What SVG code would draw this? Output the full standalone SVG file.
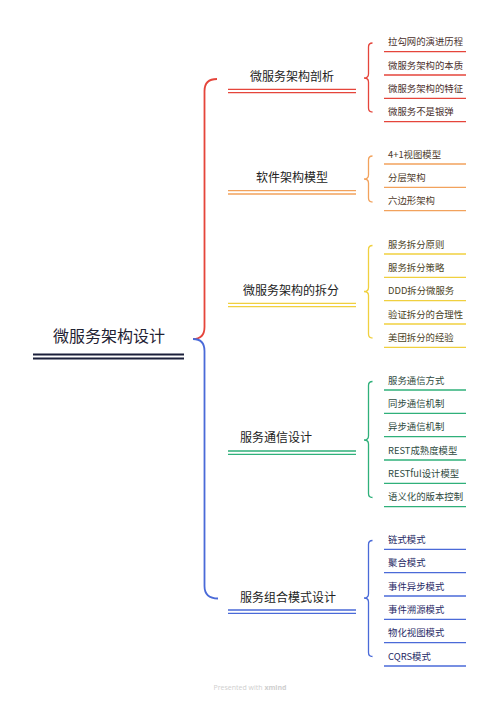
<svg xmlns="http://www.w3.org/2000/svg" width="500" height="701" viewBox="0 0 500 701">
<style>
text{font-family:"Noto Sans CJK SC","Noto Sans",sans-serif}
.root{font-size:16px;fill:#1f2233}
.br{font-size:12px;fill:#222}
.lf{font-size:9.4px}
.ln{fill:none;stroke-width:1.3}
.main{stroke-width:1.8}
.red{stroke:#e5453b}.org{stroke:#f2a25c}.yel{stroke:#f0d03f}.grn{stroke:#2fb07a}.blu{stroke:#4a6ad8}
.tr{fill:#4a2f2c}.to{fill:#4d3a2a}.ty{fill:#4a4224}.tg{fill:#2e4a40}.tb{fill:#1f2a66}
</style>
<rect width="500" height="701" fill="#fff"/>
<g id="connectors">
<path class="ln main red" d="M217 79 Q204.5 79 204.5 91 L204.5 327 Q204.5 339 193 339"/>
<path class="ln main blu" d="M193 339 Q204.5 339 204.5 351 L204.5 586 Q204.5 598.5 218 598.5"/>
<path class="ln red" d="M372.5 43 Q368.5 43 368.5 47 L368.5 74 Q368.5 78 364 78 Q368.5 78 368.5 82 L368.5 108 Q368.5 112 372.5 112"/>
<path class="ln org" d="M372.5 156 Q368.5 156 368.5 160 L368.5 175 Q368.5 179 364 179 Q368.5 179 368.5 183 L368.5 198 Q368.5 202 372.5 202"/>
<path class="ln yel" d="M372.5 245.5 Q368.5 245.5 368.5 249.5 L368.5 287.5 Q368.5 291.5 364 291.5 Q368.5 291.5 368.5 295.5 L368.5 334 Q368.5 338 372.5 338"/>
<path class="ln grn" d="M372.5 381.5 Q368.5 381.5 368.5 385.5 L368.5 436 Q368.5 440 364 440 Q368.5 440 368.5 444 L368.5 493.5 Q368.5 497.5 372.5 497.5"/>
<path class="ln blu" d="M372.5 540.5 Q368.5 540.5 368.5 544.5 L368.5 594 Q368.5 598 364 598 Q368.5 598 368.5 602 L368.5 652.5 Q368.5 656.5 372.5 656.5"/>
</g>
<g id="root">
<text class="root" x="109" y="342" text-anchor="middle">微服务架构设计</text>
<path d="M33 354.5 H184 M33 358.5 H184" stroke="#1a1f3a" stroke-width="1.8" fill="none"/>
</g>
<g id="b1">
<text class="br" x="292" y="81" text-anchor="middle">微服务架构剖析</text>
<path class="ln red" d="M228 89.3 H356 M228 92.7 H356"/>
</g>
<g id="b1-leaves">
<text class="lf tr" x="388" y="45.2">拉勾网的演进历程</text><path class="ln red" d="M384 51.7 H466"/>
<text class="lf tr" x="388" y="68.5">微服务架构的本质</text><path class="ln red" d="M384 75 H466"/>
<text class="lf tr" x="388" y="91.8">微服务架构的特征</text><path class="ln red" d="M384 98.3 H466"/>
<text class="lf tr" x="388" y="115.2">微服务不是银弹</text><path class="ln red" d="M384 121.7 H466"/>
</g>
<g id="b2">
<text class="br" x="292" y="182" text-anchor="middle">软件架构模型</text>
<path class="ln org" d="M228 190.6 H356 M228 194 H356"/>
</g>
<g id="b2-leaves">
<text class="lf to" x="388" y="157.5">4+1视图模型</text><path class="ln org" d="M384 164 H466"/>
<text class="lf to" x="388" y="180.8">分层架构</text><path class="ln org" d="M384 187.3 H466"/>
<text class="lf to" x="388" y="204.2">六边形架构</text><path class="ln org" d="M384 210.7 H466"/>
</g>
<g id="b3">
<text class="br" x="291" y="295" text-anchor="middle">微服务架构的拆分</text>
<path class="ln yel" d="M228 303.3 H356 M228 306.7 H356"/>
</g>
<g id="b3-leaves">
<text class="lf ty" x="388" y="247.5">服务拆分原则</text><path class="ln yel" d="M384 254 H466"/>
<text class="lf ty" x="388" y="270.8">服务拆分策略</text><path class="ln yel" d="M384 277.3 H466"/>
<text class="lf ty" x="388" y="294.2">DDD拆分微服务</text><path class="ln yel" d="M384 300.7 H466"/>
<text class="lf ty" x="388" y="317.5">验证拆分的合理性</text><path class="ln yel" d="M384 324 H466"/>
<text class="lf ty" x="388" y="340.8">美团拆分的经验</text><path class="ln yel" d="M384 347.3 H466"/>
</g>
<g id="b4">
<text class="br" x="240" y="442">服务通信设计</text>
<path class="ln grn" d="M228 451 H356 M228 454.4 H356"/>
</g>
<g id="b4-leaves">
<text class="lf tg" x="388" y="383.5">服务通信方式</text><path class="ln grn" d="M384 390 H466"/>
<text class="lf tg" x="388" y="406.8">同步通信机制</text><path class="ln grn" d="M384 413.3 H466"/>
<text class="lf tg" x="388" y="430.2">异步通信机制</text><path class="ln grn" d="M384 436.7 H466"/>
<text class="lf tg" x="388" y="453.5">REST成熟度模型</text><path class="ln grn" d="M384 460 H466"/>
<text class="lf tg" x="388" y="476.8">RESTful设计模型</text><path class="ln grn" d="M384 483.3 H466"/>
<text class="lf tg" x="388" y="500.2">语义化的版本控制</text><path class="ln grn" d="M384 506.7 H466"/>
</g>
<g id="b5">
<text class="br" x="240" y="602">服务组合模式设计</text>
<path class="ln blu" d="M228 610 H356 M228 613.4 H356"/>
</g>
<g id="b5-leaves">
<text class="lf tb" x="388" y="542.8">链式模式</text><path class="ln blu" d="M384 549.3 H466"/>
<text class="lf tb" x="388" y="566.2">聚合模式</text><path class="ln blu" d="M384 572.7 H466"/>
<text class="lf tb" x="388" y="589.5">事件异步模式</text><path class="ln blu" d="M384 596 H466"/>
<text class="lf tb" x="388" y="612.8">事件溯源模式</text><path class="ln blu" d="M384 619.3 H466"/>
<text class="lf tb" x="388" y="636.2">物化视图模式</text><path class="ln blu" d="M384 642.7 H466"/>
<text class="lf tb" x="388" y="659.5">CQRS模式</text><path class="ln blu" d="M384 666 H466"/>
</g>
<text x="250" y="690" text-anchor="middle" font-size="7" fill="#cfcfcf" style="font-family:'Open Sans','Noto Sans',sans-serif">Presented with <tspan font-weight="bold">xmind</tspan></text>
</svg>
